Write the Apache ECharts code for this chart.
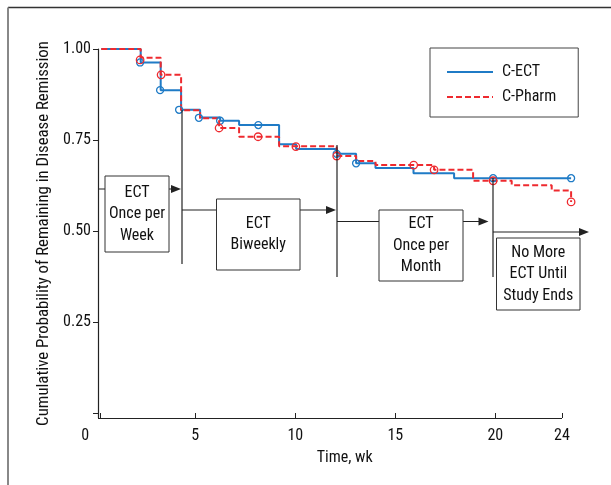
<!DOCTYPE html>
<html><head><meta charset="utf-8">
<script src="https://cdn.jsdelivr.net/npm/echarts@6/dist/echarts.min.js"></script>
<style>html,body{margin:0;padding:0;background:#fff}#c{width:611px;height:485px}</style>
</head><body><div id="c"></div>
<script>
// ---- data ----
const seriesNames = ['C-ECT', 'C-Pharm'];
const ectTimes   = [0.3, 2.27, 3.27, 4.29, 5.24, 6.24, 7.19, 9.19, 10.04, 12.07, 13.04, 14.01, 15.91, 17.94, 23.79];
const ectValues  = [1.00, 0.963, 0.887, 0.833, 0.812, 0.803, 0.791, 0.738, 0.725, 0.712, 0.686, 0.673, 0.659, 0.645, 0.645];
const pharmTimes  = [0.3, 2.27, 3.27, 4.29, 5.24, 6.19, 7.19, 9.19, 12.07, 13.04, 14.01, 16.94, 18.89, 20.82, 22.82, 23.79];
const pharmValues = [1.00, 0.976, 0.929, 0.832, 0.810, 0.783, 0.759, 0.733, 0.706, 0.692, 0.681, 0.668, 0.638, 0.626, 0.611, 0.58];
const ectCensorTimes   = [2.24, 3.24, 4.19, 5.18, 6.24, 8.15, 12.07, 13.04, 19.89, 23.79];
const ectCensorValues  = [0.963, 0.887, 0.833, 0.811, 0.803, 0.791, 0.712, 0.686, 0.645, 0.645];
const pharmCensorTimes  = [2.24, 3.29, 6.19, 8.14, 10.03, 12.07, 15.92, 16.94, 19.89, 23.79];
const pharmCensorValues = [0.970, 0.929, 0.783, 0.759, 0.732, 0.706, 0.681, 0.668, 0.638, 0.58];
const xTickValues = [0.27, 5, 10, 15, 20, 23.335];
const xTickLabels = ['0', '5', '10', '15', '20', '24'];
const yTickValues = [0, 0.25, 0.5, 0.75, 1];
const yLabelValues = [0.25, 0.5, 0.75, 1];
const phaseLabels = ['ECT\nOnce per\nWeek', 'ECT\nBiweekly', 'ECT\nOnce per\nMonth', 'No More\nECT Until\nStudy Ends'];
const xName = 'Time, wk';
const yName = 'Cumulative Probability of Remaining in Disease Remission';

// ---- axis extents ----
const X_MIN = 0.135, X_MAX = 23.8, X_AXIS_END = 23.335;
const Y_MIN = -0.0137, Y_MAX = 1;

// ---- styling ----
const FONT = '"Liberation Sans Narrow", "Roboto Condensed", Roboto, sans-serif';
const BLUE = '#1f7bc6';
const RED = '#ee2a2f';
const INK = '#222';

const pair = (xs, ys) => xs.map((x, i) => [x, ys[i]]);

function arrow(x1, x2, y) {
  return [
    { type: 'line', shape: { x1: x1, y1: y, x2: x2 - 8, y2: y }, style: { stroke: INK, lineWidth: 1.2 }, z: 10 },
    { type: 'polygon', shape: { points: [[x2 - 10, y - 4], [x2, y], [x2 - 10, y + 4]] }, style: { fill: INK }, z: 10 }
  ];
}
function vline(x, y1, y2) {
  return { type: 'line', shape: { x1: x, y1: y1, x2: x, y2: y2 }, style: { stroke: INK, lineWidth: 1.2 }, z: 10 };
}
function box(x, y, w, h, text) {
  return [
    { type: 'rect', shape: { x: x, y: y, width: w, height: h }, style: { fill: '#fff', stroke: '#333', lineWidth: 1 }, z: 11 },
    { type: 'text', x: x + w / 2, y: y + h / 2, z: 12,
      style: { text: text, fill: '#111', font: '16px ' + FONT, align: 'center', verticalAlign: 'middle', lineHeight: 21.5 } }
  ];
}

const graphics = [
  { type: 'line', shape: { x1: 8, y1: 7.5, x2: 611, y2: 7.5 }, style: { stroke: '#333', lineWidth: 1.5 } },
  { type: 'line', shape: { x1: 8, y1: 7.5, x2: 8, y2: 485 }, style: { stroke: '#888', lineWidth: 2 } },
  vline(182, 110, 264), vline(337, 145, 277), vline(493, 178, 277),
  ...arrow(99, 181, 189), ...arrow(182, 336, 210), ...arrow(337, 488.5, 221.5), ...arrow(493, 589, 232),
  ...box(105, 176, 64, 76, phaseLabels[0]),
  ...box(216.5, 199, 83.5, 71, phaseLabels[1]),
  ...box(379, 210, 84, 71, phaseLabels[2]),
  ...box(496.5, 238, 83.5, 72, phaseLabels[3])
];

const chart = echarts.init(document.getElementById('c'), null, { renderer: 'canvas' });
chart.setOption({
  animation: false,
  backgroundColor: '#fff',
  textStyle: { fontFamily: FONT },
  grid: { left: 98, right: 39.7, top: 49, bottom: 67, containLabel: false },
  legend: {
    data: seriesNames,
    orient: 'vertical',
    left: 430, top: 48,
    borderColor: '#444', borderWidth: 1,
    padding: [16, 22, 12, 16],
    itemWidth: 46, itemHeight: 10, itemGap: 9,
    itemStyle: { opacity: 0 },
    textStyle: { fontSize: 16, color: '#111', fontFamily: FONT, padding: [0, 0, 0, 4] }
  },
  xAxis: {
    type: 'value', min: X_MIN, max: X_MAX,
    name: xName, nameLocation: 'middle', nameGap: 32,
    nameTextStyle: { fontSize: 16, color: '#111', fontFamily: FONT, padding: [0, 0, 0, 20] },
    axisLine: { show: false },
    axisTick: { show: true, length: 5, customValues: xTickValues, lineStyle: { color: INK } },
    axisLabel: {
      customValues: xTickValues, margin: 10, fontSize: 16, color: '#111', fontFamily: FONT,
      showMinLabel: true, showMaxLabel: true,
      formatter: function (v) {
        const i = xTickValues.indexOf(v);
        const t = i >= 0 ? xTickLabels[i] : '';
        return i === 0 ? '{s|' + t + '}' : t;
      },
      rich: { s: { fontSize: 16, fontFamily: FONT, color: '#111', padding: [0, 31, 0, 0] } }
    },
    splitLine: { show: false }
  },
  yAxis: {
    type: 'value', min: Y_MIN, max: Y_MAX,
    name: yName, nameLocation: 'middle', nameGap: 33.5, nameRotate: 90,
    nameTextStyle: { fontSize: 16.8, color: '#111', fontFamily: FONT },
    axisLine: { show: true, lineStyle: { color: INK, width: 1.2 } },
    axisTick: { show: true, length: 5, customValues: yTickValues, lineStyle: { color: INK } },
    axisLabel: {
      customValues: yLabelValues, margin: 7, fontSize: 16, color: '#111', fontFamily: FONT,
      formatter: v => v.toFixed(2)
    },
    splitLine: { show: false }
  },
  series: [
    { name: seriesNames[0], type: 'line', step: 'end', data: pair(ectTimes, ectValues),
      symbol: 'none', clip: false, z: 3,
      lineStyle: { color: BLUE, width: 2 }, itemStyle: { color: BLUE },
      markLine: {
        silent: true, symbol: 'none', label: { show: false }, animation: false,
        lineStyle: { color: INK, width: 1.2, type: 'solid' },
        data: [[{ coord: [X_MIN, Y_MIN] }, { coord: [X_AXIS_END, Y_MIN] }]]
      } },
    { name: seriesNames[1], type: 'line', step: 'end', data: pair(pharmTimes, pharmValues),
      symbol: 'none', clip: false, z: 4,
      lineStyle: { color: RED, width: 2, type: [6, 3] }, itemStyle: { color: RED } },
    { name: seriesNames[0] + ' censored', type: 'scatter', data: pair(ectCensorTimes, ectCensorValues),
      symbol: 'circle', symbolSize: 7, clip: false, z: 5,
      itemStyle: { color: 'rgba(255,255,255,0)', borderColor: BLUE, borderWidth: 1.3, opacity: 1 } },
    { name: seriesNames[1] + ' censored', type: 'scatter', data: pair(pharmCensorTimes, pharmCensorValues),
      symbol: 'circle', symbolSize: 7.5, clip: false, z: 5,
      itemStyle: { color: 'rgba(255,255,255,0)', borderColor: RED, borderWidth: 1.3, opacity: 1 } }
  ],
  graphic: graphics
});
</script>
</body></html>
